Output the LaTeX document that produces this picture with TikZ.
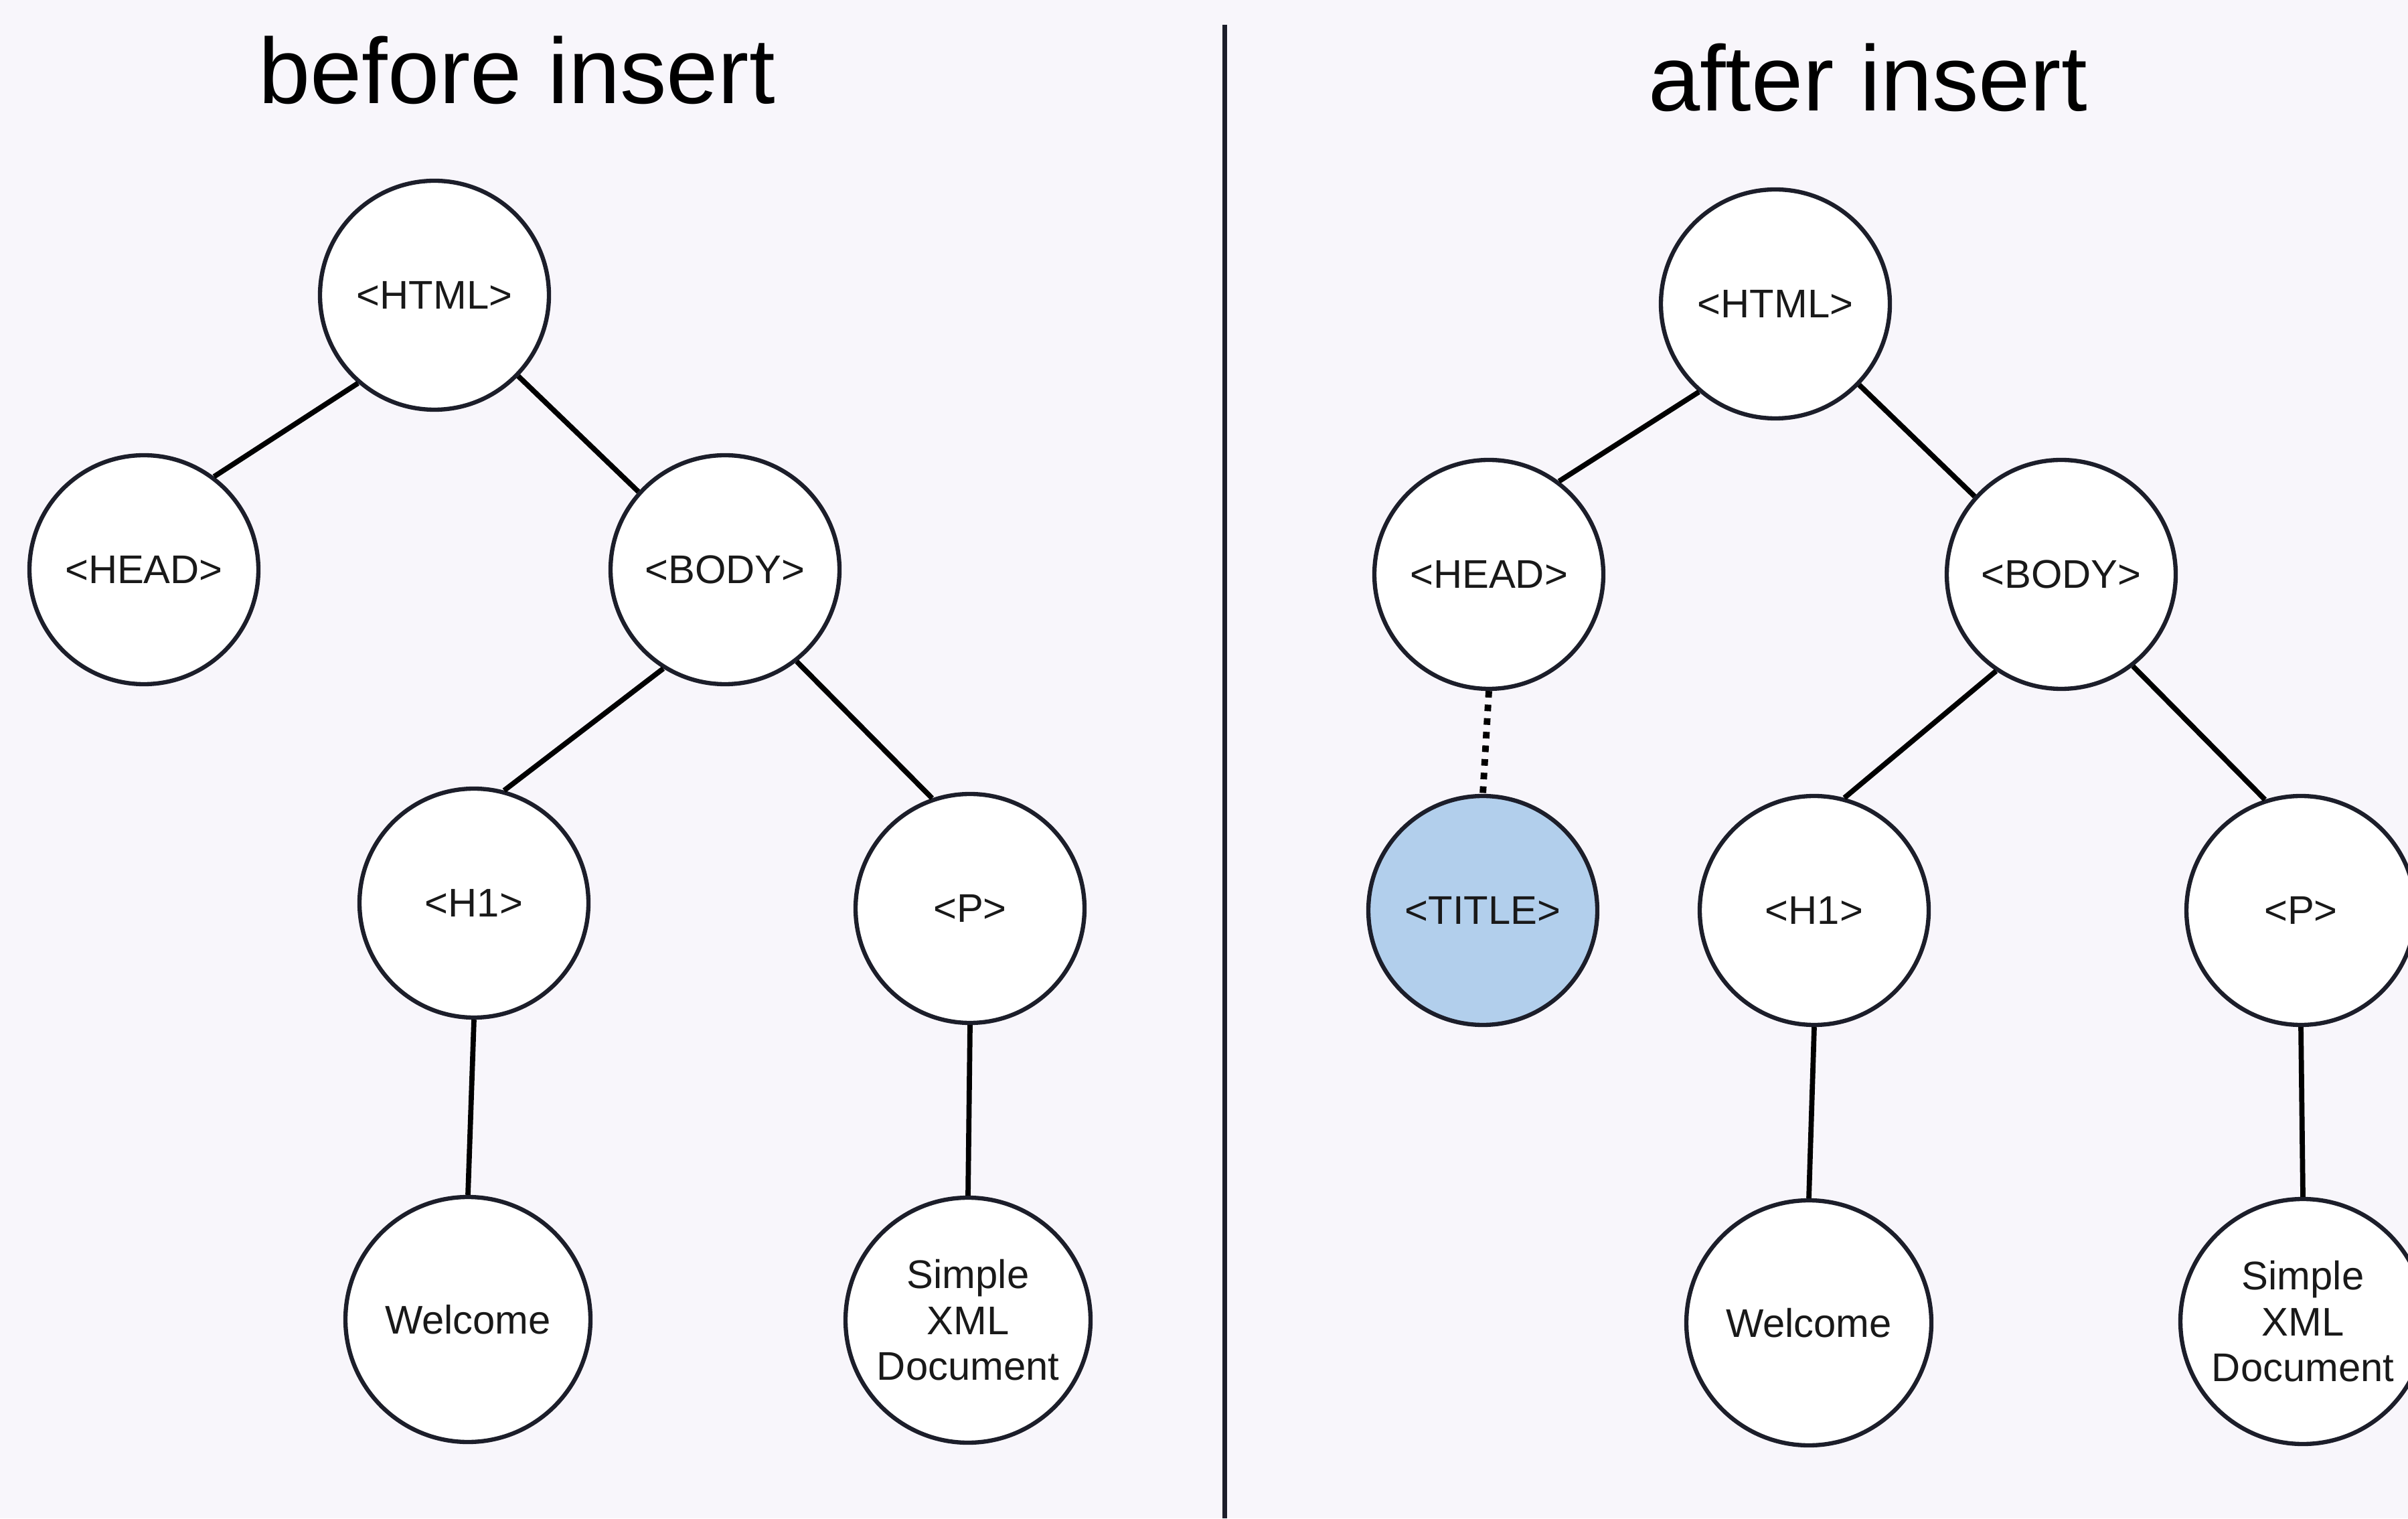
\documentclass[tikz,border=0pt]{standalone}
\usepackage{fontspec}
\setmainfont{Liberation Sans}
\usepackage{tikz}
\usetikzlibrary{positioning}
\definecolor{pagebg}{RGB}{248,246,251}
\definecolor{inkline}{RGB}{28,30,42}
\definecolor{newnode}{RGB}{178,207,236}

\begin{document}
\begin{tikzpicture}[
  tag/.style={circle,draw=inkline,line width=1.8pt,fill=white,minimum size=3.42cm,inner sep=0pt,
    align=center,font=\fontsize{17}{19.5}\selectfont,text=black!90},
  leaf/.style={tag,minimum size=3.66cm},
  added/.style={tag,fill=newnode},
  edge/.style={draw=black,line width=2.2pt},
  heading/.style={anchor=base,font=\fontsize{39.5}{45}\selectfont}]
  \fill[pagebg] (0,0) rectangle (35.97,22.68);
  \useasboundingbox (0,0) rectangle (35.97,22.68);

  \node[heading] (tBefore) at (7.72,21.13) {before insert};
  \node[tag] (lHtml) at (6.49,18.27) {<HTML>};
  \node[tag] (lHead) at (2.15,14.17) {<HEAD>};
  \node[tag] (lBody) at (10.83,14.17) {<BODY>};
  \node[tag] (lH1) at (7.08,9.19) {<H1>};
  \node[tag] (lP) at (14.49,9.11) {<P>};
  \node[leaf] (lWelcome) at (6.99,2.97) {Welcome};
  \node[leaf] (lDoc) at (14.46,2.96) {Simple\\XML\\Document};
  \draw[edge] (lHtml.-131) -- (lHead.53);
  \draw[edge] (lHtml.-44) -- (lBody.138);
  \draw[edge] (lBody.-122) -- (lH1.75);
  \draw[edge] (lBody.-52) -- (lP.109);
  \draw[edge] (lH1.south) -- (lWelcome.north);
  \draw[edge] (lP.south) -- (lDoc.north);

  \coordinate (divTop) at (18.29,22.31);
  \coordinate (divBot) at (18.29,0);
  \draw[inkline,line width=2pt] (divTop) -- (divBot);

  \node[heading] (tAfter) at (27.90,21.02) {after insert};
  \node[tag] (rHtml) at (26.52,18.14) {<HTML>};
  \node[tag] (rHead) at (22.24,14.10) {<HEAD>};
  \node[tag] (rBody) at (30.79,14.10) {<BODY>};
  \node[added] (rTitle) at (22.15,9.08) {<TITLE>};
  \node[tag] (rH1) at (27.10,9.08) {<H1>};
  \node[tag] (rP) at (34.37,9.08) {<P>};
  \node[leaf] (rWelcome) at (27.02,2.92) {Welcome};
  \node[leaf] (rDoc) at (34.40,2.94) {Simple\\XML\\Document};
  \draw[edge] (rHtml.-131) -- (rHead.53);
  \draw[edge] (rHtml.-44) -- (rBody.138);
  \draw[edge] (rBody.-124) -- (rH1.75);
  \draw[edge] (rBody.-52) -- (rP.108);
  \draw[edge] (rH1.south) -- (rWelcome.north);
  \draw[edge] (rP.south) -- (rDoc.north);
  \draw[edge,line width=2.8pt,dash pattern=on 2.8pt off 3pt] (rHead.south) -- (rTitle.north);
\end{tikzpicture}
\end{document}
